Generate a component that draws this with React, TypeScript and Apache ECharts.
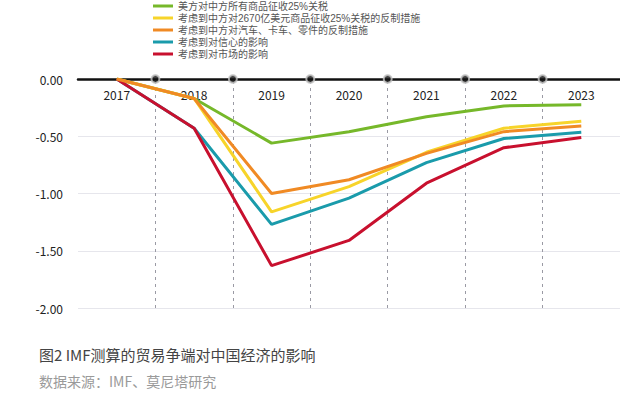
import React, { useEffect, useRef } from "react";
import * as echarts from "echarts";

const years = ["2017", "2018", "2019", "2020", "2021", "2022", "2023"];
const seriesNames = [
  "美方对中方所有商品征收25%关税",
  "考虑到中方对2670亿美元商品征收25%关税的反制措施",
  "考虑到中方对汽车、卡车、零件的反制措施",
  "考虑到对信心的影响",
  "考虑到对市场的影响",
];
const greenVals = [0, -0.17, -0.56, -0.46, -0.33, -0.235, -0.225];
const yellowVals = [0, -0.17, -1.16, -0.94, -0.64, -0.43, -0.37];
const orangeVals = [0, -0.17, -1.0, -0.88, -0.65, -0.46, -0.41];
const tealVals = [0, -0.43, -1.27, -1.04, -0.73, -0.52, -0.465];
const redVals = [0, -0.43, -1.63, -1.41, -0.91, -0.6, -0.51];
const colors = ["#76b82a", "#f7d42a", "#f08a24", "#1a9bab", "#c8102e"];
const boundaries = [0.5, 1.5, 2.5, 3.5, 4.5, 5.5];
const title = "图2 IMF测算的贸易争端对中国经济的影响";
const source = "数据来源：IMF、莫尼塔研究";

const FONT = "'Noto Sans CJK SC', 'Noto Sans', sans-serif";
const LEGEND_FONT = "'Liberation Sans', 'Noto Sans CJK SC', sans-serif";

export default function App() {
  const ref = useRef<HTMLDivElement>(null);
  useEffect(() => {
    if (!ref.current) return;
    const chart = echarts.init(ref.current, undefined, { renderer: "svg" });
    const vals = [greenVals, yellowVals, orangeVals, tealVals, redVals];
    const drawOrder = [0, 1, 3, 4, 2];
    const lineSeries = drawOrder.map((i) => ({
      name: seriesNames[i],
      type: "line",
      data: vals[i],
      xAxisIndex: 0,
      yAxisIndex: 0,
      symbol: "none",
      lineStyle: { width: 3, color: colors[i] },
      itemStyle: { color: colors[i] },
      z: 3 + drawOrder.indexOf(i),
    }));
    chart.setOption({
      animation: false,
      textStyle: { fontFamily: FONT },
      grid: { left: 78, right: -6, top: 79, bottom: 87 },
      legend: {
        data: seriesNames,
        orient: "vertical",
        left: 153,
        top: 0,
        padding: 0,
        itemWidth: 20,
        itemHeight: 3,
        itemGap: 0,
        icon: "rect",
        textStyle: { fontSize: 10, color: "#555", lineHeight: 12, fontFamily: LEGEND_FONT },
      },
      xAxis: [
        {
          type: "category",
          data: years,
          position: "top",
          boundaryGap: true,
          axisLine: { onZero: false, lineStyle: { color: "#111", width: 2.5 } },
          axisTick: { show: false },
          axisLabel: { inside: true, color: "#222", fontSize: 12, margin: 9, fontFamily: FONT },
          splitLine: { show: false },
        },
        {
          type: "value",
          min: -0.5,
          max: 6.5,
          show: false,
        },
      ],
      yAxis: {
        type: "value",
        min: -2,
        max: 0,
        interval: 0.5,
        axisLine: { show: false },
        axisTick: { show: false },
        axisLabel: {
          color: "#222",
          fontSize: 12,
          margin: 15,
          formatter: (v: number) => v.toFixed(2),
          fontFamily: FONT,
        },
        splitLine: { lineStyle: { color: "#e6e6ec", width: 1 } },
      },
      series: [
        {
          type: "scatter",
          xAxisIndex: 1,
          yAxisIndex: 0,
          data: boundaries.map((b) => [b, 0]),
          symbol: "circle",
          symbolSize: 8,
          itemStyle: { color: "#111", borderColor: "#c8c8c8", borderWidth: 2 },
          z: 10,
          silent: true,
          markLine: {
            silent: true,
            symbol: "none",
            label: { show: false },
            lineStyle: { color: "#9a9aa4", type: [3, 4], width: 1 },
            data: boundaries.map((b) => ({ xAxis: b })),
            z: 1,
          },
        },
        ...lineSeries,
      ],
      graphic: [
        {
          type: "text",
          left: 39,
          top: 347,
          style: { text: title, fontSize: 15, fill: "#444", fontFamily: FONT },
        },
        {
          type: "text",
          left: 39,
          top: 374,
          style: { text: source, fontSize: 14, fill: "#9a9a9a", fontFamily: FONT },
        },
      ],
    });
    return () => chart.dispose();
  }, []);
  return <div ref={ref} style={{ width: 620, height: 395, position: "absolute", left: 0, top: 0 }} />;
}
